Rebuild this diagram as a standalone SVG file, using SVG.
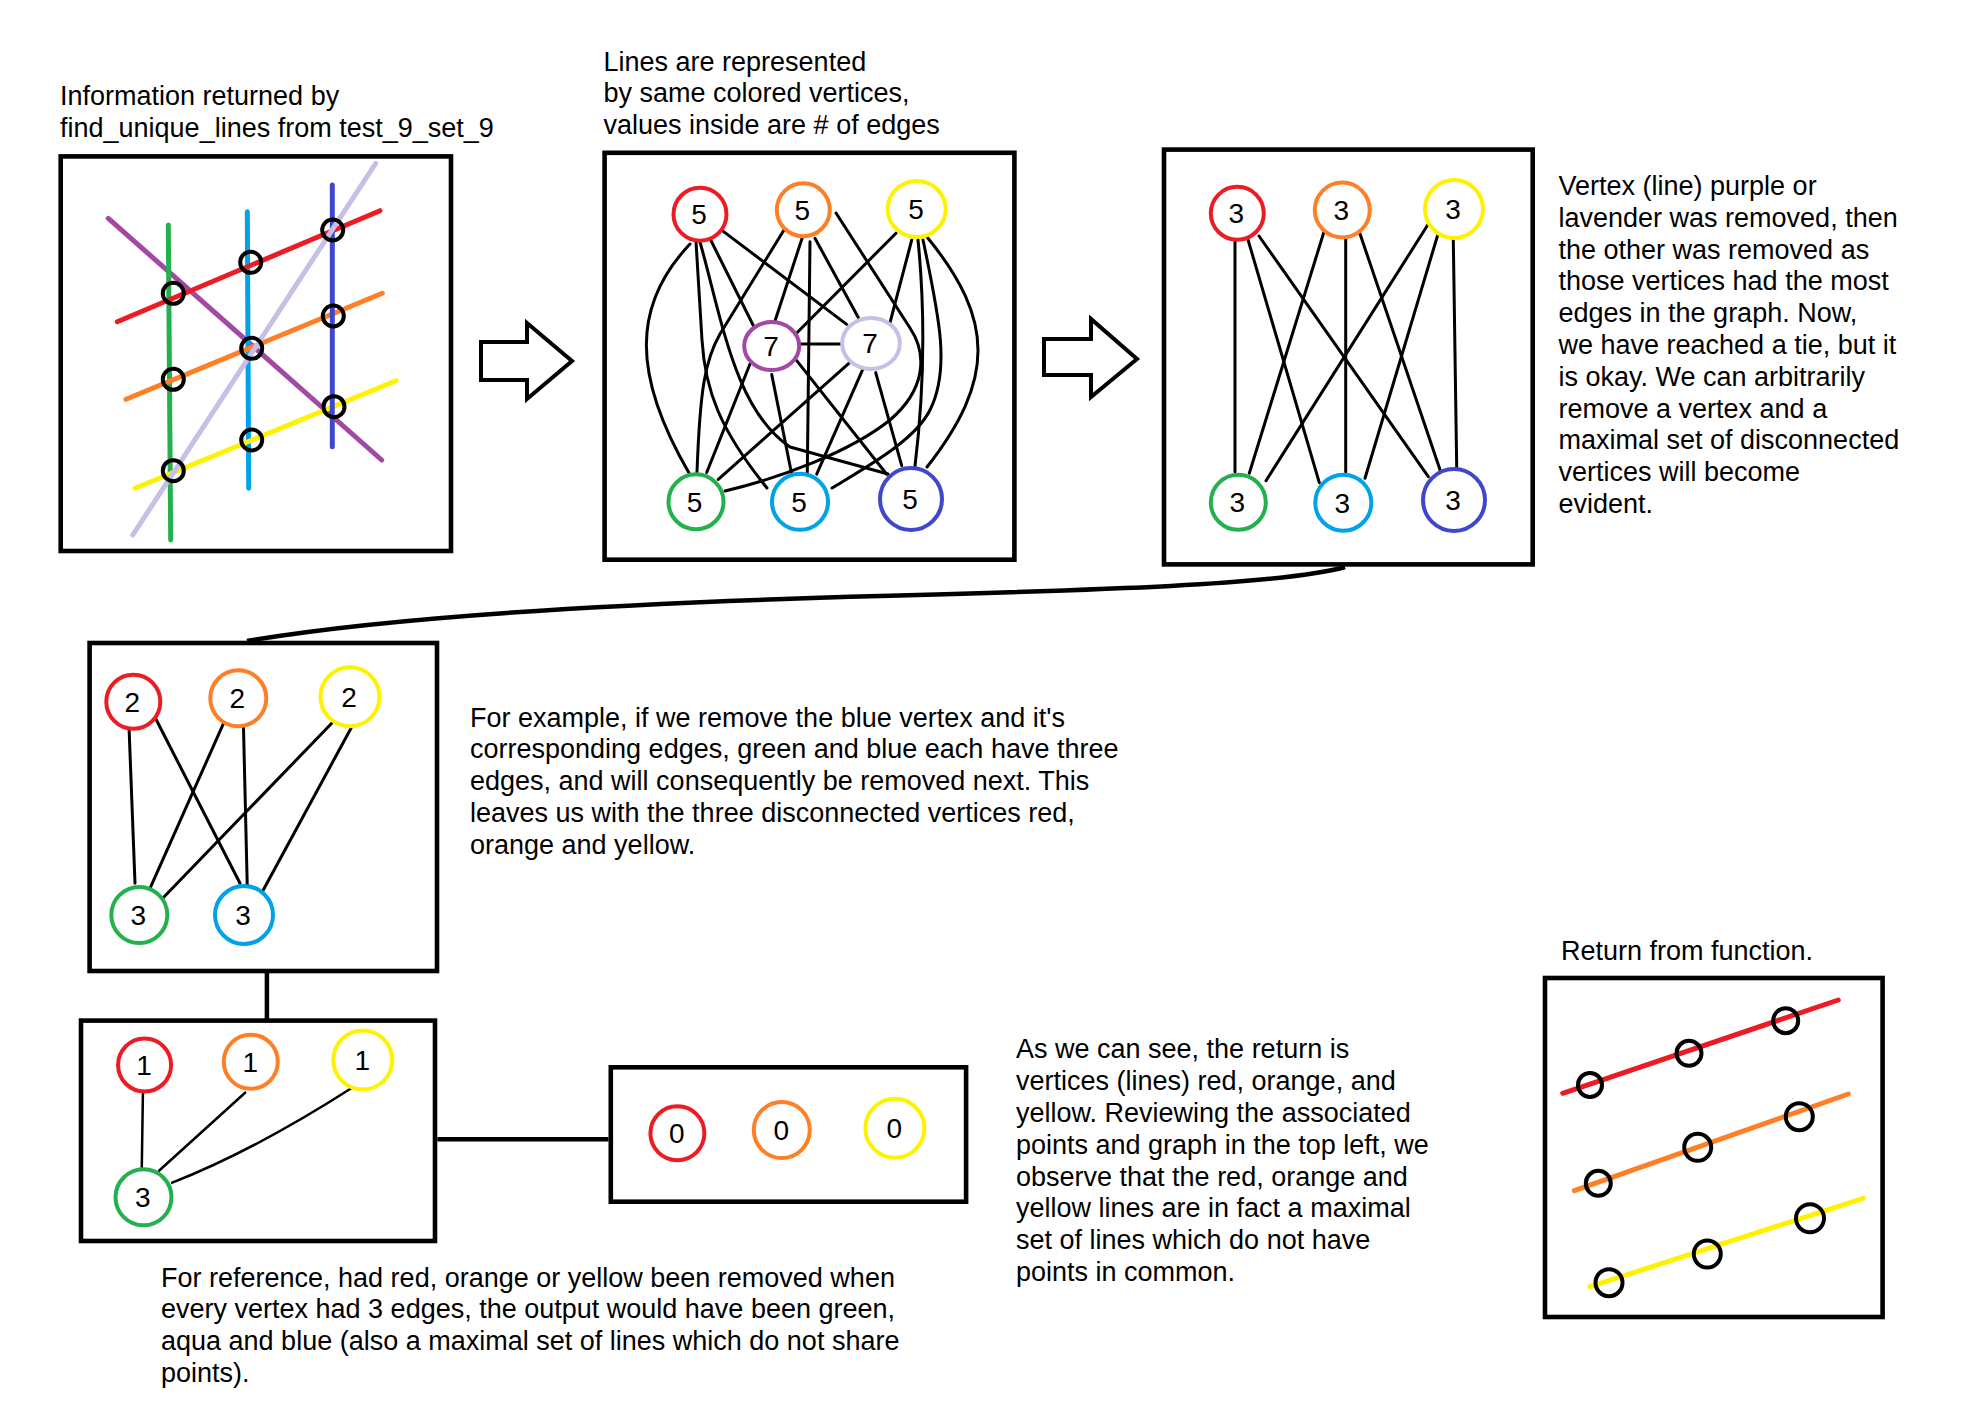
<svg xmlns="http://www.w3.org/2000/svg" width="1968" height="1428" viewBox="0 0 1968 1428">
<style>
  .t { font-family: "Liberation Sans", Arial, sans-serif; font-size: 27px; fill: #000; }
  .d { font-family: "Liberation Sans", Arial, sans-serif; font-size: 28px; fill: #000; text-anchor: middle; }
  .box { fill: none; stroke: #000; stroke-width: 4.6; }
  .e { fill: none; stroke: #000; stroke-width: 3; stroke-linecap: round; stroke-linejoin: round; }
  .e2 { fill: none; stroke: #000; stroke-width: 2.5; stroke-linecap: round; }
  .conn { fill: none; stroke: #000; stroke-width: 4.5; }
  .arrow { fill: #fff; stroke: #000; stroke-width: 4; stroke-linejoin: miter; }
  .v { fill: #fff; stroke-width: 4; }
  .ln { stroke-width: 5; stroke-linecap: round; fill: none; }
  .pt { fill: none; stroke: #000; stroke-width: 4; }
  .red { stroke: #ED1C24; } .orange { stroke: #FF7F27; } .yellow { stroke: #FFF200; }
  .green { stroke: #22B14C; } .cyan { stroke: #00A2E8; } .indigo { stroke: #3F48CC; }
  .purple { stroke: #A349A4; } .lav { stroke: #C8BFE7; }
</style>
<rect width="1968" height="1428" fill="#fff"/>

<!-- Texts -->
<g id="texts">
  <text class="t" x="60" y="105">Information returned by<tspan x="60" y="136.5">find_unique_lines from test_9_set_9</tspan></text>
  <text class="t" x="603.5" y="70.5">Lines are represented<tspan x="603.5" y="102">by same colored vertices,</tspan><tspan x="603.5" y="133.5">values inside are # of edges</tspan></text>
  <text class="t" x="1558.5" y="195">Vertex (line) purple or<tspan x="1558.5" y="226.8">lavender was removed, then</tspan><tspan x="1558.5" y="258.6">the other was removed as</tspan><tspan x="1558.5" y="290.4">those vertices had the most</tspan><tspan x="1558.5" y="322.2">edges in the graph. Now,</tspan><tspan x="1558.5" y="354">we have reached a tie, but it</tspan><tspan x="1558.5" y="385.8">is okay. We can arbitrarily</tspan><tspan x="1558.5" y="417.6">remove a vertex and a</tspan><tspan x="1558.5" y="449.4">maximal set of disconnected</tspan><tspan x="1558.5" y="481.2">vertices will become</tspan><tspan x="1558.5" y="513">evident.</tspan></text>
  <text class="t" x="470" y="726.7">For example, if we remove the blue vertex and it's<tspan x="470" y="758.4">corresponding edges, green and blue each have three</tspan><tspan x="470" y="790.1">edges, and will consequently be removed next. This</tspan><tspan x="470" y="821.8">leaves us with the three disconnected vertices red,</tspan><tspan x="470" y="853.5">orange and yellow.</tspan></text>
  <text class="t" x="1016" y="1058.3">As we can see, the return is<tspan x="1016" y="1090.1">vertices (lines) red, orange, and</tspan><tspan x="1016" y="1121.9">yellow. Reviewing the associated</tspan><tspan x="1016" y="1153.7">points and graph in the top left, we</tspan><tspan x="1016" y="1185.5">observe that the red, orange and</tspan><tspan x="1016" y="1217.3">yellow lines are in fact a maximal</tspan><tspan x="1016" y="1249.1">set of lines which do not have</tspan><tspan x="1016" y="1280.9">points in common.</tspan></text>
  <text class="t" x="161" y="1286.7">For reference, had red, orange or yellow been removed when<tspan x="161" y="1318.4">every vertex had 3 edges, the output would have been green,</tspan><tspan x="161" y="1350.1">aqua and blue (also a maximal set of lines which do not share</tspan><tspan x="161" y="1381.8">points).</tspan></text>
  <text class="t" x="1561" y="960">Return from function.</text>
</g>

<!-- Panel frames -->
<g id="panel-lines">
  <rect class="box" x="60.7" y="156.4" width="390.3" height="394.6"/>
  <line class="ln purple" x1="108.3" y1="218.3" x2="381.7" y2="460"/>
  <line class="ln green" x1="168.3" y1="225" x2="170.7" y2="540"/>
  <line class="ln cyan" x1="247.3" y1="211.7" x2="248.7" y2="488.3"/>
  <line class="ln red" x1="117.3" y1="321.7" x2="380" y2="210.7"/>
  <line class="ln orange" x1="126" y1="399.3" x2="382.3" y2="293.3"/>
  <line class="ln yellow" x1="135" y1="488.3" x2="396" y2="380.7"/>
  <line class="ln indigo" x1="332.3" y1="185" x2="332.3" y2="446.7"/>
  <line class="ln lav" x1="375.7" y1="163.3" x2="132.7" y2="535"/>
  <circle class="pt" cx="173.3" cy="293.3" r="10.5"/>
  <circle class="pt" cx="250.7" cy="262.3" r="10.5"/>
  <circle class="pt" cx="332.7" cy="230" r="10.5"/>
  <circle class="pt" cx="173.3" cy="379.3" r="10.5"/>
  <circle class="pt" cx="251.7" cy="348.3" r="10.5"/>
  <circle class="pt" cx="333.3" cy="316" r="10.5"/>
  <circle class="pt" cx="173.3" cy="470.7" r="10.5"/>
  <circle class="pt" cx="251.7" cy="440" r="10.5"/>
  <circle class="pt" cx="334" cy="406.7" r="10.5"/>
</g>

<g id="panel-return">
  <rect class="box" x="1545" y="978" width="337.6" height="339"/>
  <line class="ln red" x1="1562.7" y1="1093.3" x2="1838.3" y2="1000"/>
  <line class="ln orange" x1="1574.3" y1="1190.7" x2="1848.3" y2="1094"/>
  <line class="ln yellow" x1="1590" y1="1286.7" x2="1863.3" y2="1198.3"/>
  <circle class="pt" cx="1590" cy="1085" r="12"/>
  <circle class="pt" cx="1689" cy="1053.3" r="12.5"/>
  <circle class="pt" cx="1785.7" cy="1020.7" r="12.5"/>
  <circle class="pt" cx="1598.3" cy="1183.3" r="12.5"/>
  <circle class="pt" cx="1697.7" cy="1147.3" r="13.5"/>
  <circle class="pt" cx="1799.3" cy="1116.7" r="13.5"/>
  <circle class="pt" cx="1609" cy="1282.7" r="13.5"/>
  <circle class="pt" cx="1707.3" cy="1254" r="13.5"/>
  <circle class="pt" cx="1810" cy="1218.3" r="14"/>
</g>

<g id="frames">
  <rect id="panel-graph7" class="box" x="604.6" y="152.8" width="409.8" height="406.9"/>
  <rect id="panel-graph6" class="box" x="1164" y="149.6" width="368.7" height="414.8"/>
  <rect id="panel-graph5" class="box" x="89.6" y="643" width="347.4" height="328"/>
  <rect id="panel-graph4" class="box" x="81" y="1020.6" width="354" height="220.4"/>
  <rect id="panel-graph3" class="box" x="610.8" y="1067.3" width="355.3" height="134.4"/>
</g>

<!-- Connectors -->
<g id="connectors">
  <polygon class="arrow" points="481,342 527,342 527,323 572,361 527,399 527,380 481,380"/>
  <polygon class="arrow" points="1044,339 1091,339 1091,319 1137,359 1091,397 1091,375 1044,375"/>
  <path class="conn" stroke-width="4" d="M1345,567 C1280,585 1100,590 880,596 S400,615 247,641"/>
  <line class="conn" x1="266.9" y1="973" x2="266.9" y2="1019"/>
  <line class="conn" x1="437.4" y1="1139.3" x2="608.5" y2="1139.3"/>

  <g id="edges-graph7">
    <path class="e" d="M690,244 C632,305 632,375 689,473"/>
    <path class="e" d="M696,242 L702,340 C705,390 720,430 767,488"/>
    <path class="e" d="M700,242 C722,320 735,410 790,447 L888,474"/>
    <line class="e" x1="710.7" y1="240" x2="753.3" y2="325.5"/>
    <line class="e" x1="723.3" y1="231.4" x2="846.7" y2="324.4"/>
    <path class="e" d="M784,230 L720,334 C705,360 700,390 697,472"/>
    <line class="e" x1="802.3" y1="237.6" x2="775" y2="321"/>
    <line class="e" x1="810" y1="241.8" x2="807.3" y2="472.5"/>
    <line class="e" x1="815" y1="238.3" x2="858.3" y2="317.5"/>
    <path class="e" d="M836,213 L910,328 C928,355 925,390 890,420 C850,452 780,478 725,491"/>
    <line class="e" x1="896" y1="233.2" x2="796.7" y2="333"/>
    <line class="e" x1="911.7" y1="240" x2="890" y2="322.7"/>
    <path class="e" d="M918,240 Q929,350 915,466"/>
    <path class="e" d="M923,240 C940,320 950,370 930,410 C915,440 870,465 832,488"/>
    <path class="e" d="M927,237 C995,320 995,380 927,467"/>
    <line class="e" x1="800.7" y1="344" x2="840" y2="344"/>
    <line class="e" x1="850" y1="362.3" x2="718.3" y2="479.4"/>
    <line class="e" x1="863.3" y1="368.2" x2="816.7" y2="474.2"/>
    <line class="e" x1="875.7" y1="372.6" x2="901.7" y2="465.6"/>
    <line class="e" x1="750" y1="364" x2="706.7" y2="472.5"/>
    <line class="e" x1="771.7" y1="374.4" x2="791.7" y2="474.2"/>
    <line class="e" x1="796.7" y1="360.6" x2="886.7" y2="474.2"/>
  </g>

  <g id="edges-graph6">
    <line class="e" x1="1235" y1="241.7" x2="1235" y2="471.7"/>
    <line class="e" x1="1247.3" y1="237.3" x2="1319.3" y2="482.7"/>
    <line class="e" x1="1259" y1="236" x2="1428.3" y2="476.7"/>
    <line class="e" x1="1324" y1="231.7" x2="1249.3" y2="473.3"/>
    <line class="e" x1="1345.7" y1="235" x2="1345.7" y2="471.7"/>
    <line class="e" x1="1359.3" y1="231.7" x2="1440.7" y2="471.7"/>
    <line class="e" x1="1427.7" y1="225" x2="1266" y2="480.7"/>
    <line class="e" x1="1438.7" y1="231.7" x2="1365" y2="478.3"/>
    <line class="e" x1="1453.3" y1="240" x2="1456.7" y2="467.3"/>
  </g>

  <g id="edges-graph5">
    <line class="e" x1="129" y1="726.7" x2="135" y2="883.3"/>
    <line class="e" x1="156" y1="719.3" x2="240" y2="883.3"/>
    <line class="e" x1="224.3" y1="721.7" x2="150" y2="888.3"/>
    <line class="e" x1="243.3" y1="719.3" x2="247.3" y2="888.3"/>
    <line class="e" x1="331.7" y1="723.3" x2="162.7" y2="898.3"/>
    <line class="e" x1="351" y1="728.3" x2="262.3" y2="891.7"/>
  </g>

  <g id="edges-graph4">
    <line class="e2" x1="142.9" y1="1094" x2="141.8" y2="1167"/>
    <line class="e2" x1="245.1" y1="1092.7" x2="159" y2="1170.7"/>
    <path class="e2" d="M351.3,1088.3 Q255,1150 172.2,1182.7"/>
  </g>
</g>

<!-- Vertices -->
<g id="graph7-vertices">
  <g id="g7-red"><circle class="v red" cx="700" cy="214.2" r="26.5"/><text class="d" x="699" y="224.2">5</text></g>
  <g id="g7-orange"><circle class="v orange" cx="803.3" cy="209.8" r="26.5"/><text class="d" x="802.3" y="219.8">5</text></g>
  <g id="g7-yellow"><ellipse class="v yellow" cx="916.7" cy="209" rx="29" ry="28"/><text class="d" x="916" y="219">5</text></g>
  <g id="g7-purple"><ellipse class="v purple" cx="771.7" cy="346.1" rx="27.5" ry="24"/><text class="d" x="771" y="356.1">7</text></g>
  <g id="g7-lavender"><ellipse class="v lav" cx="871" cy="343.4" rx="28.8" ry="25.5"/><text class="d" x="870" y="353.4">7</text></g>
  <g id="g7-green"><circle class="v green" cx="696" cy="501.8" r="27.5"/><text class="d" x="694.5" y="511.8">5</text></g>
  <g id="g7-cyan"><circle class="v cyan" cx="800" cy="501.8" r="28"/><text class="d" x="799" y="511.8">5</text></g>
  <g id="g7-indigo"><circle class="v indigo" cx="911" cy="499" r="31"/><text class="d" x="910" y="509">5</text></g>
</g>

<g id="graph6-vertices">
  <g id="g6-red"><circle class="v red" cx="1237.3" cy="213.3" r="26.5"/><text class="d" x="1236.3" y="223.3">3</text></g>
  <g id="g6-orange"><circle class="v orange" cx="1342.3" cy="210" r="27.5"/><text class="d" x="1341.3" y="220">3</text></g>
  <g id="g6-yellow"><circle class="v yellow" cx="1454" cy="209" r="29"/><text class="d" x="1453" y="219">3</text></g>
  <g id="g6-green"><circle class="v green" cx="1238.3" cy="502.3" r="27.5"/><text class="d" x="1237.3" y="512.3">3</text></g>
  <g id="g6-cyan"><circle class="v cyan" cx="1343.3" cy="502.7" r="28"/><text class="d" x="1342.3" y="512.7">3</text></g>
  <g id="g6-indigo"><circle class="v indigo" cx="1454" cy="500" r="31"/><text class="d" x="1453" y="510">3</text></g>
</g>

<g id="graph5-vertices">
  <g id="g5-red"><circle class="v red" cx="133.3" cy="701.7" r="27"/><text class="d" x="132.3" y="711.7">2</text></g>
  <g id="g5-orange"><circle class="v orange" cx="238.3" cy="698.3" r="28"/><text class="d" x="237.3" y="708.3">2</text></g>
  <g id="g5-yellow"><circle class="v yellow" cx="350" cy="696.7" r="29.5"/><text class="d" x="349" y="706.7">2</text></g>
  <g id="g5-green"><circle class="v green" cx="139.3" cy="915" r="28"/><text class="d" x="138.3" y="925">3</text></g>
  <g id="g5-cyan"><circle class="v cyan" cx="244" cy="915" r="29"/><text class="d" x="243" y="925">3</text></g>
</g>

<g id="graph4-vertices">
  <g id="g4-red"><circle class="v red" cx="144.6" cy="1065" r="26.5"/><text class="d" x="144" y="1075">1</text></g>
  <g id="g4-orange"><circle class="v orange" cx="250.8" cy="1061.7" r="27"/><text class="d" x="250.2" y="1071.7">1</text></g>
  <g id="g4-yellow"><circle class="v yellow" cx="362.8" cy="1060" r="29.5"/><text class="d" x="362.2" y="1070">1</text></g>
  <g id="g4-green"><circle class="v green" cx="143.5" cy="1197.3" r="28"/><text class="d" x="142.9" y="1207.3">3</text></g>
</g>

<g id="graph3-vertices">
  <g id="g3-red"><circle class="v red" cx="677.4" cy="1133.3" r="27"/><text class="d" x="676.8" y="1143.3">0</text></g>
  <g id="g3-orange"><circle class="v orange" cx="781.8" cy="1130" r="28"/><text class="d" x="781.2" y="1140">0</text></g>
  <g id="g3-yellow"><circle class="v yellow" cx="894.9" cy="1128.3" r="29.5"/><text class="d" x="894.3" y="1138.3">0</text></g>
</g>
</svg>
